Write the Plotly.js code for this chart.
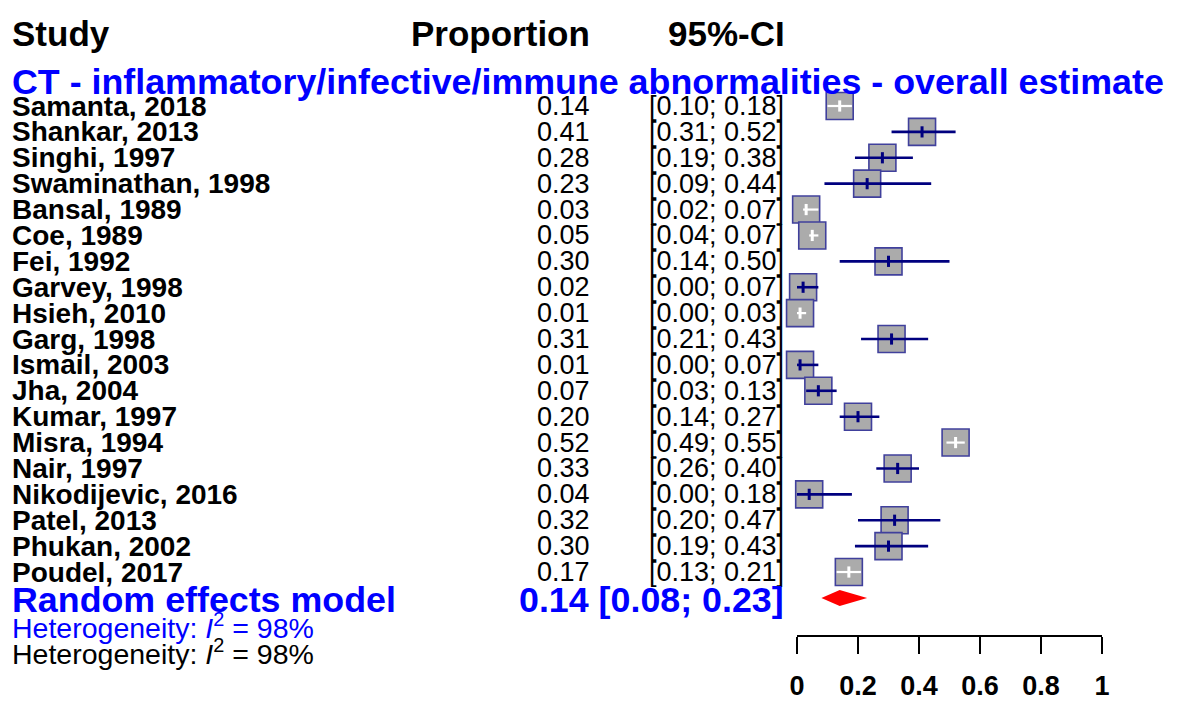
<!DOCTYPE html>
<html>
<head>
<meta charset="utf-8">
<script src="https://cdn.plot.ly/plotly-3.0.1.min.js"></script>
<style>html,body{margin:0;padding:0;background:#fff;}#chart{width:1183px;height:702px;}</style>
</head>
<body>
<div id="chart"></div>
<script>
const studies = ["Samanta, 2018","Shankar, 2013","Singhi, 1997","Swaminathan, 1998","Bansal, 1989","Coe, 1989","Fei, 1992","Garvey, 1998","Hsieh, 2010","Garg, 1998","Ismail, 2003","Jha, 2004","Kumar, 1997","Misra, 1994","Nair, 1997","Nikodijevic, 2016","Patel, 2013","Phukan, 2002","Poudel, 2017"];
const proportion = [0.14,0.41,0.28,0.23,0.03,0.05,0.30,0.02,0.01,0.31,0.01,0.07,0.20,0.52,0.33,0.04,0.32,0.30,0.17];
const lower = [0.10,0.31,0.19,0.09,0.02,0.04,0.14,0.00,0.00,0.21,0.00,0.03,0.14,0.49,0.26,0.00,0.20,0.19,0.13];
const upper = [0.18,0.52,0.38,0.44,0.07,0.07,0.50,0.07,0.03,0.43,0.07,0.13,0.27,0.55,0.40,0.18,0.47,0.43,0.21];
const pooled = {est: 0.14, lo: 0.08, hi: 0.23};
const heterogeneity = "98%";
const subgroupTitle = "CT - inflammatory/infective/immune abnormalities - overall estimate";
const tickVals = [0, 0.2, 0.4, 0.6, 0.8, 1];
const tickText = ["0", "0.2", "0.4", "0.6", "0.8", "1"];

const W = 1183, H = 702;
const FONT = "Liberation Sans, Arial, Helvetica, sans-serif";
const x0px = 797, x1px = 1102;
const pxPerUnit = x1px - x0px;
const rowTop = 106, rowStep = 25.89;
const yTop = -rowTop / rowStep, yBot = (H - rowTop) / rowStep;
const boxSize = 27;
const halfBox = (boxSize / 2 + 1) / pxPerUnit;

const rows = studies.map((_, i) => i);
const NAVY = "#00007f", BLUE = "#0000ff";

// CI lines: white if inside the box, navy otherwise
const navyX = [], navyY = [], whiteX = [], whiteY = [];
const tickColors = [];
studies.forEach((_, i) => {
  const inside = lower[i] >= proportion[i] - halfBox && upper[i] <= proportion[i] + halfBox;
  const tx = inside ? whiteX : navyX, ty = inside ? whiteY : navyY;
  tx.push(lower[i], upper[i], null); ty.push(i, i, null);
  tickColors.push(inside ? "#ffffff" : NAVY);
});

const pooledRow = studies.length;
const dh = 0.31;

const traces = [
  {x: proportion, y: rows, type: "scatter", mode: "markers", cliponaxis: false, hoverinfo: "skip",
   marker: {symbol: "square", size: boxSize, color: "#ababab", line: {color: "#40409c", width: 1.6}}},
  {x: navyX, y: navyY, type: "scatter", mode: "lines", hoverinfo: "skip", line: {color: NAVY, width: 2.6}},
  {x: whiteX, y: whiteY, type: "scatter", mode: "lines", hoverinfo: "skip", line: {color: "#ffffff", width: 2.2}},
  {x: proportion, y: rows, type: "scatter", mode: "markers", cliponaxis: false, hoverinfo: "skip",
   marker: {symbol: "line-ns", size: 8, color: tickColors, line: {color: tickColors, width: 3}}},
  {x: [pooled.lo, pooled.est, pooled.hi, pooled.est, pooled.lo],
   y: [pooledRow, pooledRow - dh, pooledRow, pooledRow + dh, pooledRow],
   type: "scatter", mode: "lines", fill: "toself", fillcolor: "#ff0000", line: {width: 0, color: "#ff0000"}, hoverinfo: "skip"}
];

const ann = [];
function add(text, xpx, row, anchor, size, color, bold) {
  ann.push({text: bold ? "<b>" + text + "</b>" : text, x: xpx / W, xref: "paper", y: row, yref: "y",
    xanchor: anchor, yanchor: "middle", showarrow: false,
    font: {family: FONT, size: size, color: color}});
}
const rowOf = px => (px - rowTop) / rowStep;

add("Study", 10, rowOf(33), "left", 35, "#000", true);
add("Proportion", 592, rowOf(33), "right", 35, "#000", true);
add("95%-CI", 787, rowOf(33), "right", 35, "#000", true);
add(subgroupTitle, 10, rowOf(82), "left", 35.8, BLUE, true);

studies.forEach((s, i) => {
  add(s, 10, i, "left", 28, "#000", true);
  add(proportion[i].toFixed(2), 592, i, "right", 27, "#000", false);
  add("[" + lower[i].toFixed(2) + "; " + upper[i].toFixed(2) + "]", 786, i, "right", 27, "#000", false);
});
add("Random effects model", 10, rowOf(600), "left", 35.8, BLUE, true);
add(pooled.est.toFixed(2) + " [" + pooled.lo.toFixed(2) + "; " + pooled.hi.toFixed(2) + "]", 786, rowOf(600), "right", 35.8, BLUE, true);
add("Heterogeneity: <i>I</i><sup>2</sup> = " + heterogeneity, 10, rowOf(626), "left", 28.5, BLUE, false);
add("Heterogeneity: <i>I</i><sup>2</sup> = " + heterogeneity, 10, rowOf(652), "left", 28.5, "#000", false);

const layout = {
  width: W, height: H,
  margin: {l: 0, r: 0, t: 0, b: 0, pad: 0},
  paper_bgcolor: "#fff", plot_bgcolor: "rgba(0,0,0,0)",
  showlegend: false,
  xaxis: {domain: [x0px / W, x1px / W], range: [0, 1], anchor: "free", position: 1 - 636 / H,
    showline: true, linecolor: "#000", linewidth: 2, showgrid: false, zeroline: false,
    ticks: "outside", ticklen: 17, tickwidth: 2, tickcolor: "#000",
    tickvals: tickVals, ticktext: tickText, ticklabelstandoff: 9,
    tickfont: {family: FONT, size: 27, color: "#000", weight: "bold"}, fixedrange: true},
  yaxis: {domain: [0, 1], range: [yBot, yTop], visible: false, showgrid: false, zeroline: false, fixedrange: true},
  annotations: ann
};

Plotly.newPlot("chart", traces, layout, {staticPlot: true, displayModeBar: false});
</script>
</body>
</html>
